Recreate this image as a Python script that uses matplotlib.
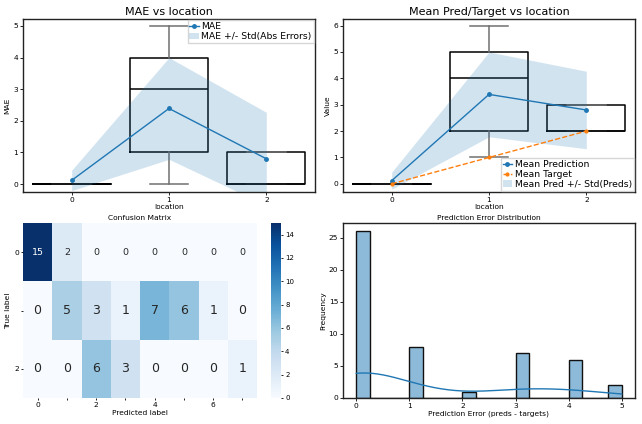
import numpy as np
import matplotlib
matplotlib.use("Agg")
import matplotlib.pyplot as plt
from matplotlib.patches import Patch
from matplotlib.lines import Line2D

# ---------------- data ----------------
locations = [0, 1, 2]
loc_labels = ["0", "1", "2"]

mae_mean = [0.118, 2.391, 0.800]
mae_std = [0.322, 1.608, 1.470]
mae_q1 = [0, 1, 0]
mae_med = [0, 3, 0]
mae_q3 = [0, 4, 1]
mae_wlo = [0, 0, 0]
mae_whi = [0, 5, 1]

pred_mean = [0.118, 3.391, 2.800]
pred_std = [0.322, 1.608, 1.470]
target_mean = [0, 1, 2]
pred_q1 = [0, 2, 2]
pred_med = [0, 4, 2]
pred_q3 = [0, 5, 3]
pred_wlo = [0, 1, 2]
pred_whi = [0, 6, 3]

conf_matrix = [
    [15, 2, 0, 0, 0, 0, 0, 0],
    [0, 5, 3, 1, 7, 6, 1, 0],
    [0, 0, 6, 3, 0, 0, 0, 1],
]
cm_xticklabels = ["0", "", "2", "", "4", "", "6", ""]
cm_yticklabels = ["0", "", "2"]
cbar_ticks = [0, 2, 4, 6, 8, 10, 12, 14]

error_values = [0, 1, 2, 3, 4, 5]
error_counts = [26, 8, 1, 7, 6, 2]

# ---------------- style ----------------
W, H = 642, 424
fig = plt.figure(figsize=(W / 100, H / 100), dpi=100)
C0 = "#1f77b4"
C1 = "#ff7f0e"
TICK = 5.4
LAB = 5.4


def px(x0, y0, x1, y1):
    return [x0 / W, 1 - y1 / H, (x1 - x0) / W, (y1 - y0) / H]


def style_ax(ax):
    ax.tick_params(labelsize=TICK, length=2, width=0.6, pad=1.5)
    for s in ax.spines.values():
        s.set_linewidth(1.0)
        s.set_color("#222222")


def boxes(ax, q1, med, q3, wlo, whi):
    stats = []
    for i in range(len(locations)):
        stats.append(dict(q1=q1[i], med=med[i], q3=q3[i], whislo=wlo[i],
                          whishi=whi[i], fliers=[], label=loc_labels[i]))
    ax.bxp(stats, positions=locations, widths=0.8, showfliers=False,
           boxprops=dict(color="black", linewidth=1.1),
           medianprops=dict(color="black", linewidth=1.1),
           whiskerprops=dict(color="#707070", linewidth=1.1),
           capprops=dict(color="#707070", linewidth=1.1),
           manage_ticks=False, zorder=1)


# ---------------- top-left ----------------
ax1 = fig.add_axes(px(23, 19, 315, 192))
boxes(ax1, mae_q1, mae_med, mae_q3, mae_wlo, mae_whi)
lo = np.array(mae_mean) - np.array(mae_std)
hi = np.array(mae_mean) + np.array(mae_std)
ax1.fill_between(locations, lo, hi, color=C0, alpha=0.2, linewidth=0, zorder=2)
ax1.plot(locations, mae_mean, color=C0, marker="o", markersize=2.5, linewidth=1.0, zorder=3)
ax1.set_xlim(-0.5, 2.5)
ax1.set_ylim(-0.25, 5.22)
ax1.set_xticks(locations)
ax1.set_xticklabels(loc_labels)
ax1.set_yticks([0, 1, 2, 3, 4, 5])
ax1.set_title("MAE vs location", fontsize=8, pad=3)
ax1.set_xlabel("location", fontsize=LAB, labelpad=1)
ax1.set_ylabel("MAE", fontsize=LAB, labelpad=2)
style_ax(ax1)
h1 = [Line2D([], [], color=C0, marker="o", markersize=2.5, linewidth=1.0),
      Patch(facecolor=C0, alpha=0.2, edgecolor="none")]
ax1.legend(h1, ["MAE", "MAE +/- Std(Abs Errors)"], loc="upper right", fontsize=6.7,
           handlelength=1.0, handletextpad=0.3, labelspacing=0.1, borderpad=0.2,
           borderaxespad=0.15, fancybox=False, framealpha=0.8)

# ---------------- top-right ----------------
ax2 = fig.add_axes(px(343, 19, 635, 192))
boxes(ax2, pred_q1, pred_med, pred_q3, pred_wlo, pred_whi)
lo = np.array(pred_mean) - np.array(pred_std)
hi = np.array(pred_mean) + np.array(pred_std)
ax2.fill_between(locations, lo, hi, color=C0, alpha=0.2, linewidth=0, zorder=2)
ax2.plot(locations, pred_mean, color=C0, marker="o", markersize=2.5, linewidth=1.0, zorder=3)
ax2.plot(locations, target_mean, color=C1, marker="o", markersize=2.0, linewidth=1.0,
         linestyle="--", zorder=3)
ax2.set_xlim(-0.5, 2.5)
ax2.set_ylim(-0.31, 6.25)
ax2.set_xticks(locations)
ax2.set_xticklabels(loc_labels)
ax2.set_yticks([0, 1, 2, 3, 4, 5, 6])
ax2.set_title("Mean Pred/Target vs location", fontsize=8, pad=3)
ax2.set_xlabel("location", fontsize=LAB, labelpad=1)
ax2.set_ylabel("Value", fontsize=LAB, labelpad=2)
style_ax(ax2)
h2 = [Line2D([], [], color=C0, marker="o", markersize=2.5, linewidth=1.0),
      Line2D([], [], color=C1, marker="o", markersize=2.0, linewidth=1.0, linestyle="--"),
      Patch(facecolor=C0, alpha=0.2, edgecolor="none")]
ax2.legend(h2, ["Mean Prediction", "Mean Target", "Mean Pred +/- Std(Preds)"],
           loc="lower right", fontsize=6.7, handlelength=1.0, handletextpad=0.3,
           labelspacing=0.1, borderpad=0.2, borderaxespad=0.15, fancybox=False,
           framealpha=0.8)

# ---------------- bottom-left heatmap ----------------
ax3 = fig.add_axes(px(23, 223, 257, 398))
cm = np.array(conf_matrix)
mesh = ax3.pcolormesh(cm, cmap="Blues", vmin=0, vmax=15)
ax3.set_xlim(0, cm.shape[1])
ax3.set_ylim(cm.shape[0], 0)
cmap = plt.get_cmap("Blues")
for r in range(cm.shape[0]):
    for c in range(cm.shape[1]):
        v = cm[r, c]
        rgb = cmap(v / 15)[:3]
        lum = 0.2126 * rgb[0] + 0.7152 * rgb[1] + 0.0722 * rgb[2]
        col = "white" if lum < 0.408 else "#262626"
        fs = 6.8 if r == 0 else 9
        ax3.text(c + 0.5, r + 0.5, str(v), ha="center", va="center", fontsize=fs, color=col)
ax3.set_xticks(np.arange(cm.shape[1]) + 0.5)
ax3.set_xticklabels(cm_xticklabels)
ax3.set_yticks(np.arange(cm.shape[0]) + 0.5)
ax3.set_yticklabels(cm_yticklabels)
for s in ax3.spines.values():
    s.set_visible(False)
ax3.tick_params(labelsize=TICK, length=1.5, width=0.6, pad=1.5)
ax3.set_title("Confusion Matrix", fontsize=LAB, pad=2)
ax3.set_xlabel("Predicted label", fontsize=LAB, labelpad=1)
ax3.set_ylabel("True label", fontsize=LAB, labelpad=2)

cax = fig.add_axes(px(271, 223, 281, 398))
cb = fig.colorbar(mesh, cax=cax, ticks=cbar_ticks)
cb.outline.set_linewidth(0)
cax.tick_params(labelsize=5, length=1.5, width=0.6, pad=1.5)

# ---------------- bottom-right histogram ----------------
ax4 = fig.add_axes(px(343, 223, 635, 398))
errors = np.repeat(error_values, error_counts).astype(float)
ax4.hist(errors, bins=20, range=(min(error_values), max(error_values)),
         color=C0, alpha=0.5, edgecolor="none", zorder=2)
ax4.hist(errors, bins=20, range=(min(error_values), max(error_values)),
         histtype="bar", facecolor="none", edgecolor="#111111", linewidth=1.0, zorder=3)
# gaussian KDE (Scott's rule), scaled to counts
n = errors.size
bw = errors.std(ddof=1) * n ** (-1 / 5)
grid = np.linspace(errors.min(), errors.max(), 200)
dens = np.exp(-0.5 * ((grid[:, None] - errors[None, :]) / bw) ** 2).sum(1) / (n * bw * np.sqrt(2 * np.pi))
binw = (max(error_values) - min(error_values)) / 20
ax4.plot(grid, dens * n * binw, color=C0, linewidth=1.0, zorder=4)
ax4.set_xlim(-0.25, 5.25)
ax4.set_ylim(0, 27.3)
ax4.set_yticks([0, 5, 10, 15, 20, 25])
ax4.set_title("Prediction Error Distribution", fontsize=LAB, pad=2)
ax4.set_xlabel("Prediction Error (preds - targets)", fontsize=LAB, labelpad=1)
ax4.set_ylabel("Frequency", fontsize=LAB, labelpad=2)
style_ax(ax4)

fig.savefig("out.png", dpi=100)
